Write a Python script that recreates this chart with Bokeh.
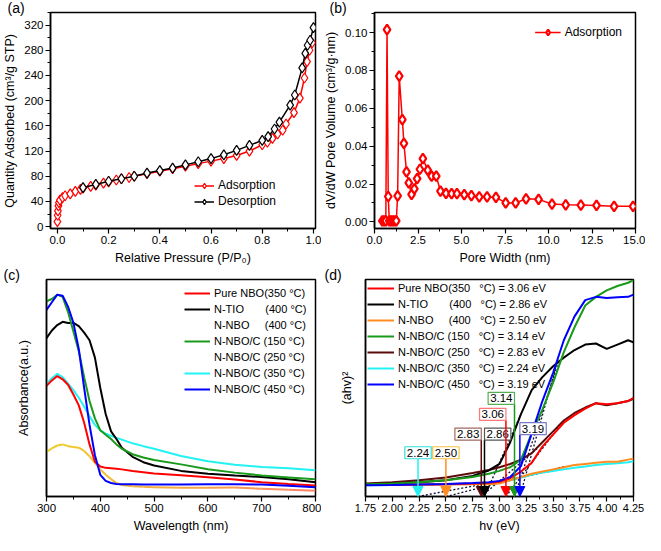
from bokeh.plotting import figure
from bokeh.layouts import column, row
from bokeh.models import (Range1d, Legend, LegendItem, Label, Arrow, NormalHead,
                          SingleIntervalTicker, FixedTicker, NumeralTickFormatter)
from bokeh.embed import file_html
from bokeh.resources import INLINE

FONT = "Liberation Sans"
NB = "\u00a0"

# ---------------- (a) N2 isotherm ----------------
ads_p = [0.000, 0.001, 0.002, 0.004, 0.006, 0.010, 0.020, 0.030, 0.050, 0.070,
         0.090, 0.100, 0.130, 0.150, 0.180, 0.200, 0.230, 0.250, 0.280, 0.300,
         0.350, 0.400, 0.450, 0.500, 0.550, 0.600, 0.650, 0.700, 0.750, 0.800,
         0.820, 0.840, 0.860, 0.880, 0.893, 0.924, 0.947, 0.965, 0.975, 0.985, 0.995]
ads_q = [8, 18, 25, 33, 38, 42, 46, 49, 52, 56,
         59, 61, 64, 66, 69, 71, 74, 76, 78, 80,
         84, 88, 92, 96, 100, 104, 108, 113, 120, 130,
         134, 140, 147, 153, 163, 181, 204, 236, 262, 280, 292]
des_p = [0.100, 0.150, 0.200, 0.250, 0.300, 0.350, 0.400, 0.450, 0.500, 0.550,
         0.600, 0.650, 0.700, 0.750, 0.800, 0.823, 0.848, 0.867, 0.909, 0.927,
         0.956, 0.968, 0.977, 0.987, 1.000]
des_q = [62, 67, 72, 76, 80, 85, 89, 93, 98, 103,
         108, 114, 121, 129, 137, 143, 155, 166, 193, 209,
         252, 275, 288, 296, 316]

# ---------------- (b) pore size distribution ----------------
pore_w = [0.45, 0.55, 0.65, 0.72, 0.79, 0.85, 0.95, 1.05, 1.15, 1.25,
          1.33, 1.42, 1.60, 1.69, 1.84, 1.97, 2.13, 2.29, 2.45, 2.61,
          2.78, 3.06, 3.28, 3.55, 3.79, 4.11, 4.43, 4.74, 5.16, 5.57,
          6.02, 6.47, 6.98, 7.54, 8.11, 8.71, 9.43, 10.20, 10.99, 11.86,
          12.76, 13.77, 14.86]
pore_v = [0.0005, 0.0005, 0.0005, 0.1015, 0.0134, 0.0005, 0.0005, 0.0005, 0.0005, 0.0005,
          0.0137, 0.0770, 0.0540, 0.0415, 0.0264, 0.0206, 0.0145, 0.0174, 0.0229, 0.0278,
          0.0334, 0.0273, 0.0242, 0.0242, 0.0162, 0.0150, 0.0149, 0.0149, 0.0144, 0.0139,
          0.0132, 0.0132, 0.0129, 0.0100, 0.0100, 0.0122, 0.0119, 0.0094, 0.0090, 0.0089,
          0.0087, 0.0082, 0.0082]

# ---------------- (c) UV-vis absorbance (a.u.) ----------------
wl = [300, 310, 320, 330, 340, 350, 360, 370, 380, 390, 400, 410, 420, 430, 440,
      460, 480, 500, 550, 600, 650, 700, 750, 800]
c_pure_nbo = [0.510, 0.535, 0.555, 0.540, 0.515, 0.470, 0.420, 0.340, 0.240, 0.160, 0.138, 0.132,
              0.130, 0.128, 0.125, 0.118, 0.112, 0.106, 0.098, 0.089, 0.078, 0.066, 0.058, 0.051]
c_n_tio = [0.730, 0.765, 0.790, 0.805, 0.800, 0.800, 0.785, 0.755, 0.720, 0.640, 0.500, 0.380,
           0.300, 0.265, 0.225, 0.183, 0.158, 0.143, 0.118, 0.105, 0.097, 0.090, 0.080, 0.066]
c_n_nbo = [0.205, 0.222, 0.235, 0.240, 0.232, 0.228, 0.225, 0.210, 0.185, 0.155, 0.125, 0.100,
           0.080, 0.062, 0.053, 0.047, 0.045, 0.043, 0.040, 0.040, 0.041, 0.036, 0.031, 0.027]
c_nbo_c150 = [0.900, 0.910, 0.930, 0.920, 0.850, 0.760, 0.670, 0.550, 0.440, 0.360, 0.305, 0.285,
              0.265, 0.240, 0.220, 0.195, 0.180, 0.168, 0.148, 0.126, 0.110, 0.097, 0.088, 0.079]
c_nbo_c250 = []
c_nbo_c350 = [0.520, 0.545, 0.565, 0.550, 0.520, 0.490, 0.455, 0.415, 0.370, 0.330, 0.305, 0.290,
              0.280, 0.270, 0.262, 0.245, 0.232, 0.220, 0.187, 0.162, 0.146, 0.136, 0.130, 0.121]
c_nbo_c450 = [0.860, 0.895, 0.930, 0.925, 0.875, 0.800, 0.680, 0.500, 0.330, 0.190, 0.100, 0.072,
              0.062, 0.058, 0.057, 0.056, 0.055, 0.055, 0.055, 0.056, 0.057, 0.055, 0.050, 0.043]

# ---------------- (d) Tauc plot ----------------
hv = [1.75, 2.00, 2.25, 2.50, 2.75, 2.90, 3.00, 3.10, 3.20, 3.30,
      3.40, 3.50, 3.60, 3.70, 3.80, 3.90, 4.00, 4.10, 4.20, 4.25]
d_pure_nbo = [0.053, 0.054, 0.055, 0.057, 0.060, 0.063, 0.068, 0.085, 0.115, 0.155,
              0.230, 0.285, 0.340, 0.375, 0.405, 0.430, 0.425, 0.430, 0.440, 0.455]
d_n_tio = [0.056, 0.060, 0.066, 0.075, 0.095, 0.120, 0.150, 0.250, 0.380, 0.490,
           0.550, 0.600, 0.640, 0.675, 0.700, 0.705, 0.680, 0.700, 0.720, 0.710]
d_n_nbo = [0.053, 0.053, 0.054, 0.055, 0.056, 0.057, 0.060, 0.075, 0.090, 0.105,
           0.115, 0.125, 0.135, 0.145, 0.150, 0.155, 0.160, 0.160, 0.170, 0.175]
d_nbo_c150 = [0.056, 0.060, 0.066, 0.075, 0.090, 0.105, 0.118, 0.135, 0.170, 0.290,
              0.400, 0.525, 0.665, 0.780, 0.880, 0.920, 0.950, 0.970, 0.985, 0.997]
d_nbo_c250 = [0.060, 0.066, 0.075, 0.088, 0.108, 0.122, 0.135, 0.150, 0.170, 0.200,
              0.250, 0.300, 0.350, 0.385, 0.410, 0.430, 0.420, 0.430, 0.440, 0.450]
d_nbo_c350 = [0.052, 0.053, 0.054, 0.056, 0.058, 0.060, 0.065, 0.075, 0.088, 0.100,
              0.110, 0.118, 0.125, 0.132, 0.138, 0.145, 0.150, 0.153, 0.158, 0.162]
d_nbo_c450 = [0.052, 0.053, 0.055, 0.058, 0.062, 0.066, 0.072, 0.090, 0.140, 0.290,
              0.440, 0.570, 0.720, 0.830, 0.905, 0.920, 0.915, 0.918, 0.920, 0.930]

# band gaps (eV) and their tangent extrapolations
gap_values = [2.24, 2.50, 2.83, 2.86, 3.06, 3.14, 3.19]
gap_labels = ["2.24", "2.50", "2.83", "2.86", "3.06", "3.14", "3.19"]
tan_end_x = [3.60, 3.60, 3.35, 3.20, 3.55, 3.55, 3.55]
tan_end_y = [0.128, 0.138, 0.220, 0.380, 0.318, 0.620, 0.640]

legend_c = ["Pure NBO(350 °C)", "N-TIO" + NB * 7 + "(400 °C)", "N-NBO" + NB * 5 + "(400 °C)",
            "N-NBO/C (150 °C)", "N-NBO/C (250 °C)", "N-NBO/C (350 °C)", "N-NBO/C (450 °C)"]
legend_d = ["Pure NBO(350" + NB * 3 + "°C) = 3.06 eV",
            "N-TIO" + NB * 7 + "(400" + NB * 3 + "°C) = 2.86 eV",
            "N-NBO" + NB * 5 + "(400" + NB * 3 + "°C) = 2.50 eV",
            "N-NBO/C (150" + NB * 3 + "°C) = 3.14 eV",
            "N-NBO/C (250" + NB * 3 + "°C) = 2.83 eV",
            "N-NBO/C (350" + NB * 3 + "°C) = 2.24 eV",
            "N-NBO/C (450" + NB * 3 + "°C) = 3.19 eV"]

# ---------------- styling ----------------
RED = "#FF0000"
BLACK = "#000000"
YEL = "#F5B521"
ORANGE = "#FF8C1E"
GREEN = "#1A9A1A"
BROWN = "#5C0B0B"
CYAN = "#22F2F2"
BLUE = "#0000FF"


def base_fig(width, height, xr, yr, left, right, bottom, tag):
    p = figure(width=width, height=height, x_range=Range1d(*xr), y_range=Range1d(*yr),
               output_backend="svg", toolbar_location=None,
               min_border_left=left, min_border_right=right,
               min_border_top=0, min_border_bottom=bottom)
    # panel tag "(a)".."(d)" drawn as a left-shifted title
    p.title.text = tag
    p.title.align = "left"
    p.title.offset = -(left - 3)
    p.title.standoff = -6
    p.title.text_font = FONT
    p.title.text_font_size = "14px"
    p.title.text_font_style = "normal"
    p.title.text_color = "black"
    p.xgrid.visible = False
    p.ygrid.visible = False
    p.outline_line_color = "black"
    p.outline_line_width = 1.5
    p.outline_line_alpha = 1.0
    p.background_fill_color = "white"
    p.border_fill_color = "white"
    for ax in (p.xaxis[0], p.yaxis[0]):
        ax.axis_line_width = 1.5
        ax.axis_line_color = "black"
        ax.major_tick_line_width = 1.2
        ax.minor_tick_line_width = 1
        ax.major_tick_out = 5
        ax.major_tick_in = 0
        ax.minor_tick_out = 3
        ax.minor_tick_in = 0
        ax.major_label_standoff = 2
        ax.axis_label_standoff = 4
        ax.major_label_text_font = FONT
        ax.major_label_text_font_size = "11.5px"
        ax.major_label_text_color = "black"
        ax.axis_label_text_font = FONT
        ax.axis_label_text_font_size = "12.5px"
        ax.axis_label_text_font_style = "normal"
        ax.axis_label_text_color = "black"
    return p


def style_legend(lg, size="11px", gw=26, gh=14):
    lg.border_line_alpha = 0
    lg.background_fill_alpha = 0
    lg.label_text_font = FONT
    lg.label_text_font_size = size
    lg.label_text_color = "black"
    lg.glyph_width = gw
    lg.glyph_height = gh
    lg.label_height = gh
    lg.spacing = 2
    lg.label_standoff = 4


# ---------------- panel (a) ----------------
XA, YA = (-0.027, 1.008), (-3, 340)
pa = base_fig(321, 267, XA, YA, 46, 6, 38, "(a)")
pa.xaxis.ticker = SingleIntervalTicker(interval=0.2, num_minor_ticks=2)
pa.yaxis.ticker = SingleIntervalTicker(interval=40, num_minor_ticks=2)
pa.xaxis.formatter = NumeralTickFormatter(format="0.0")
pa.xaxis.axis_label = "Relative Pressure (P/P\u2080)"
pa.yaxis.axis_label = "Quantity Adsorbed (cm\u00b3/g STP)"
ra1 = pa.line(ads_p, ads_q, line_color=RED, line_width=1.5)
ra2 = pa.scatter(ads_p, ads_q, marker="diamond", size=10, line_color=RED,
                 fill_color="white", line_width=1.2)
rd1 = pa.line(des_p, des_q, line_color=BLACK, line_width=1.5)
rd2 = pa.scatter(des_p, des_q, marker="diamond", size=10, line_color=BLACK,
                 fill_color="white", line_width=1.2)
lga = Legend(items=[LegendItem(label="Adsorption", renderers=[ra1, ra2]),
                    LegendItem(label="Desorption", renderers=[rd1, rd2])],
             location=(140, 16), padding=4)
style_legend(lga, size="12px", gw=20, gh=13)
pa.add_layout(lga)

# ---------------- panel (b) ----------------
XB, YB = (0, 15), (-0.0035, 0.1106)
pb = base_fig(324, 267, XB, YB, 48, 10, 38, "(b)")
pb.xaxis.ticker = SingleIntervalTicker(interval=2.5, num_minor_ticks=2)
pb.yaxis.ticker = SingleIntervalTicker(interval=0.02, num_minor_ticks=2)
pb.xaxis.formatter = NumeralTickFormatter(format="0.0")
pb.yaxis.formatter = NumeralTickFormatter(format="0.00")
pb.xaxis.axis_label = "Pore Width (nm)"
pb.yaxis.axis_label = "dV/dW Pore Volume (cm\u00b3/g\u00b7nm)"
rb1 = pb.line(pore_w, pore_v, line_color=RED, line_width=1.5)
rb2 = pb.scatter(pore_w, pore_v, marker="diamond", size=10, line_color=RED,
                 fill_color="white", line_width=2.2)
lgb = Legend(items=[LegendItem(label="Adsorption", renderers=[rb1, rb2])],
             location="top_right", margin=8, padding=5)
style_legend(lgb, size="12px", gw=26, gh=14)
pb.add_layout(lgb)

# ---------------- panel (c) ----------------
XC, YC = (300, 800), (0, 1.0)
pc = base_fig(321, 268, XC, YC, 46, 6, 38, "(c)")
pc.xaxis.ticker = SingleIntervalTicker(interval=100, num_minor_ticks=2)
pc.yaxis.ticker = FixedTicker(ticks=[])
pc.yaxis.axis_label_standoff = 16
pc.xaxis.axis_label = "Wavelength (nm)"
pc.yaxis.axis_label = "Absorbance(a.u.)"

rc_brown = pc.line(wl[:len(c_nbo_c250)], c_nbo_c250, line_color=BROWN, line_width=2)
rc_cyan = pc.line(wl, c_nbo_c350, line_color=CYAN, line_width=2)
# N-NBO drawn with a yellow->salmon colour ramp, as in the original
ramp = []
for i in range(len(wl) - 1):
    t = (wl[i] - wl[0]) / (wl[-1] - wl[0])
    r = int(238 + (255 - 238) * t)
    g = int(205 + (125 - 205) * t)
    b = int(35 + (110 - 35) * t)
    ramp.append("#%02x%02x%02x" % (r, g, b))
pc.segment(x0=wl[:-1], y0=c_n_nbo[:-1], x1=wl[1:], y1=c_n_nbo[1:], line_color=ramp, line_width=2)
rc_nnbo = pc.line([], [], line_color=YEL, line_width=2)
rc_red = pc.line(wl, c_pure_nbo, line_color=RED, line_width=2)
rc_black = pc.line(wl, c_n_tio, line_color=BLACK, line_width=2)
rc_green = pc.line(wl, c_nbo_c150, line_color=GREEN, line_width=2)
rc_blue = pc.line(wl, c_nbo_c450, line_color=BLUE, line_width=2)
rend_c = [rc_red, rc_black, rc_nnbo, rc_green, rc_brown, rc_cyan, rc_blue]
lgc = Legend(items=[LegendItem(label=l, renderers=[r]) for l, r in zip(legend_c, rend_c)],
             location=(134, 96), padding=4)
style_legend(lgc, size="11px", gw=26, gh=14)
pc.add_layout(lgc)

# ---------------- panel (d) ----------------
XD, YD = (1.75, 4.25), (0, 1.0)
pd = base_fig(324, 268, XD, YD, 44, 12, 38, "(d)")
pd.xaxis.ticker = SingleIntervalTicker(interval=0.25, num_minor_ticks=2)
pd.xaxis.formatter = NumeralTickFormatter(format="0.00")
pd.xaxis.major_label_text_font_size = "11px"
pd.yaxis.ticker = FixedTicker(ticks=[])
pd.yaxis.axis_label_standoff = 12
pd.xaxis.axis_label = "hv (eV)"
pd.yaxis.axis_label = "(ahv)\u00b2"

gap_colors = [CYAN, ORANGE, BROWN, BLACK, RED, GREEN, BLUE]
pd.segment(x0=gap_values, y0=[0.0] * len(gap_values), x1=tan_end_x, y1=tan_end_y,
           line_color="#111133", line_width=1.3, line_dash="2 2")
rd_cyan = pd.line(hv, d_nbo_c350, line_color=CYAN, line_width=2)
rd_org = pd.line(hv, d_n_nbo, line_color=ORANGE, line_width=2)
rd_brown = pd.line(hv, d_nbo_c250, line_color=BROWN, line_width=2)
rd_red = pd.line(hv, d_pure_nbo, line_color=RED, line_width=2)
rd_black = pd.line(hv, d_n_tio, line_color=BLACK, line_width=2)
rd_green = pd.line(hv, d_nbo_c150, line_color=GREEN, line_width=2)
rd_blue = pd.line(hv, d_nbo_c450, line_color=BLUE, line_width=2)

# arrows + boxed labels marking each band gap (annotation placement)
arrow_top = [0.174, 0.174, 0.260, 0.260, 0.351, 0.425, 0.285]
label_side = ["center", "center", "right", "left", "right", "right", "left"]
box_colors = ["#33DDDD", "#F5C040", "#A06A60", "#555555", "#FF7777", "#55B055", "#7777CC"]
for gx, gt, gc, top, side, bc in zip(gap_values, gap_labels, gap_colors, arrow_top,
                                     label_side, box_colors):
    pd.add_layout(Arrow(end=NormalHead(size=10, fill_color=gc, line_color=gc),
                        x_start=gx, y_start=top, x_end=gx, y_end=0.0,
                        line_color=gc, line_width=1.5))
    pd.add_layout(Label(x=gx, y=top, text=gt, text_font=FONT, text_font_size="11.5px",
                        text_color="black", text_align=side, text_baseline="bottom",
                        background_fill_color="white", border_line_color=bc,
                        border_line_width=1.2, padding=2))

rend_d = [rd_red, rd_black, rd_org, rd_green, rd_brown, rd_cyan, rd_blue]
lgd = Legend(items=[LegendItem(label=l, renderers=[r]) for l, r in zip(legend_d, rend_d)],
             location="top_left", margin=0, padding=2)
style_legend(lgd, size="11px", gw=27, gh=14)
pd.add_layout(lgd)

layout = column(row(pa, pb), row(pc, pd))
open("out.html", "w").write(file_html(layout, INLINE))
